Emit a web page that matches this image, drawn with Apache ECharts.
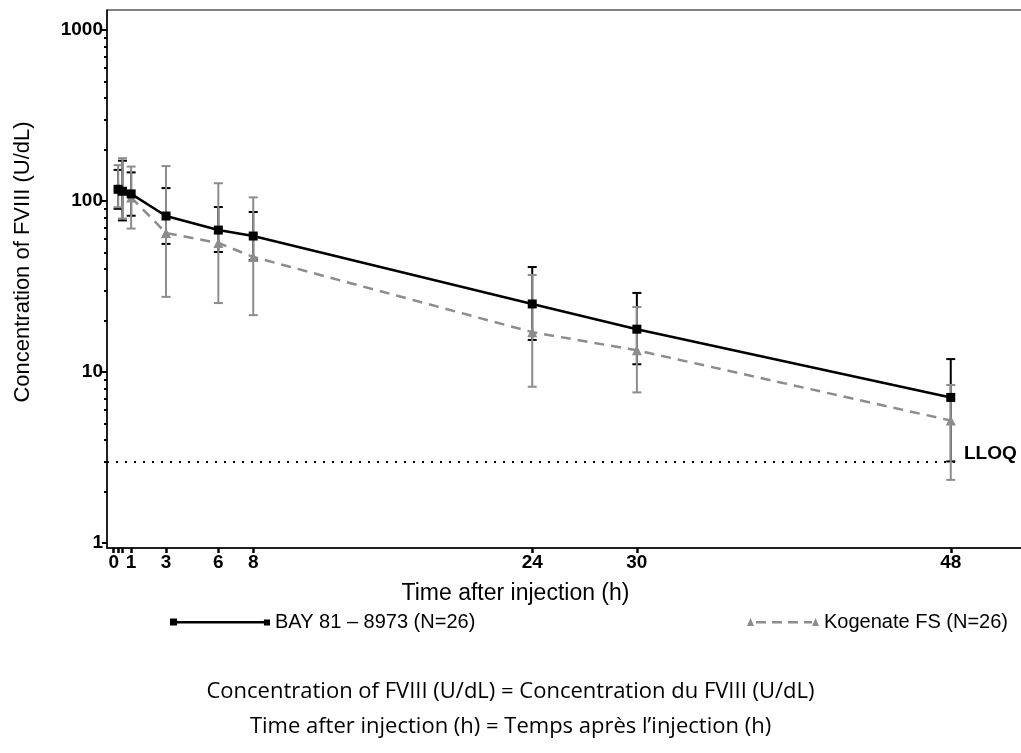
<!DOCTYPE html>
<html>
<head>
<meta charset="utf-8">
<script src="https://cdn.jsdelivr.net/npm/echarts@6/dist/echarts.min.js"></script>
<style>
  html, body { margin: 0; padding: 0; background: #fff; }
  #chart { width: 1021px; height: 753px; }
</style>
</head>
<body>
<div id="chart"></div>
<script>
// sampling times (h)
var times = [0.25, 0.5, 1, 3, 6, 8, 24, 30, 48];

// BAY 81-8973: geometric mean and error bar ends (U/dL)
var bayMean = [117, 114, 110, 81.7, 67.6, 62.4, 25.0, 17.8, 7.1];
var bayLow  = [90, 77, 82, 56.1, 50.3, 45.2, 15.4, 11.1, 3.0];
var bayHigh = [152, 172, 147, 119, 92.2, 86.2, 41.1, 29.0, 11.9];

// Kogenate FS
var kogMean = [122, 118, 105, 65.0, 56.8, 47.1, 17.1, 13.4, 5.2];
var kogLow  = [92, 79, 69, 27.5, 25.3, 21.5, 8.2, 7.6, 2.34];
var kogHigh = [162, 178, 159, 160, 127, 105, 36.9, 24.0, 8.4];

var lloq = 3;
var xTicks = [0, 0.25, 0.5, 1, 3, 6, 8, 24, 30, 48];
var xLabels = [0, 1, 3, 6, 8, 24, 30, 48];
var yLabels = [1, 10, 100, 1000];
var yMinor = [2, 3, 4, 5, 6, 7, 8, 9, 20, 30, 40, 50, 60, 70, 80, 90, 200, 300, 400, 500, 600, 700, 800, 900];

var BLACK = '#000000';
var GRAY = '#8c8c8c';
var X_MIN = -0.385, X_MAX = 52.2;
var Y_MIN = 0.935, Y_MAX = 1309;

var bayName = 'BAY 81 \u2013 8973 (N=26)';
var kogName = 'Kogenate FS (N=26)';

function pairs(xs, ys) {
    return xs.map(function (t, i) { return [t, ys[i]]; });
}
function bars(xs, lo, hi) {
    return xs.map(function (t, i) { return [t, lo[i], hi[i]]; });
}

// vertical error bar with caps
function errorBar(color) {
    return function (params, api) {
        var top = api.coord([api.value(0), api.value(2)]);
        var bot = api.coord([api.value(0), api.value(1)]);
        var hw = 4.5;
        var st = { stroke: color, lineWidth: 2 };
        return {
            type: 'group',
            children: [
                { type: 'line', shape: { x1: top[0], y1: top[1], x2: bot[0], y2: bot[1] }, style: st },
                { type: 'line', shape: { x1: top[0] - hw, y1: top[1], x2: top[0] + hw, y2: top[1] }, style: st },
                { type: 'line', shape: { x1: bot[0] - hw, y1: bot[1], x2: bot[0] + hw, y2: bot[1] }, style: st }
            ]
        };
    };
}

var font = 'Liberation Sans, Arial, sans-serif';
var chart = echarts.init(document.getElementById('chart'), null, { renderer: 'canvas' });

var option = {
    backgroundColor: '#fff',
    animation: false,
    title: [
        {
            text: 'Concentration of FVIII (U/dL) = Concentration du FVIII (U/dL)',
            left: 'center', top: 676,
            textStyle: { fontFamily: 'Open Sans', fontSize: 22, fontWeight: 'normal', color: '#000' }
        },
        {
            text: 'Time after injection (h) = Temps apr\u00e8s l\u2019injection (h)',
            left: 'center', top: 711,
            textStyle: { fontFamily: 'Open Sans', fontSize: 22, fontWeight: 'normal', color: '#000' }
        }
    ],
    legend: [
        {
            data: [{ name: bayName, itemStyle: { color: BLACK, borderWidth: 0 } }],
            left: 165, top: 607,
            itemWidth: 100, itemHeight: 8, itemGap: 10,
            icon: 'path://M0,0h7v7h-7zM7,2.5h86v2.5h-86zM93,1h6v6h-6z',
            textStyle: { fontFamily: font, fontSize: 20, color: '#000' },
            selectedMode: false
        },
        {
            data: [{ name: kogName, itemStyle: { color: GRAY, borderWidth: 0 } }],
            left: 742, top: 607,
            itemWidth: 72, itemHeight: 8, itemGap: 8,
            icon: 'path://M0,8L3.5,0L7,8zM9,3h10v2.5h-10zM25,3h10v2.5h-10zM41,3h10v2.5h-10zM57,3h8v2.5h-8zM65,8L68.5,0L72,8z',
            textStyle: { fontFamily: font, fontSize: 20, color: '#000' },
            selectedMode: false
        }
    ],
    grid: {
        left: 107, top: 10, right: -3, bottom: 205,
        show: true, borderColor: '#000', borderWidth: 1,
        outerBoundsMode: 'none'
    },
    xAxis: {
        type: 'value',
        min: X_MIN, max: X_MAX,
        name: 'Time after injection (h)',
        nameLocation: 'middle', nameGap: 34,
        nameTextStyle: { fontFamily: font, fontSize: 23, color: '#000', padding: [0, 100, 0, 0] },
        axisLine: { show: true, onZero: false, lineStyle: { color: '#000', width: 1.5 } },
        axisTick: { show: true, customValues: xTicks, length: 5, lineStyle: { color: '#000', width: 2.5 } },
        axisLabel: { customValues: xLabels, fontFamily: font, fontSize: 19, fontWeight: 'bold', color: '#000', margin: 5 },
        splitLine: { show: false }
    },
    yAxis: [
        {
            type: 'log', logBase: 10,
            min: Y_MIN, max: Y_MAX,
            name: 'Concentration of FVIII (U/dL)',
            nameLocation: 'middle', nameGap: 73,
            nameTextStyle: { fontFamily: font, fontSize: 22, color: '#000', padding: [0, 0, 0, 34] },
            axisLine: { show: true, onZero: false, lineStyle: { color: '#000', width: 1.5 } },
            axisTick: { show: true, customValues: yLabels, length: 5, lineStyle: { color: '#000', width: 2 } },
            axisLabel: {
                customValues: yLabels, fontFamily: font, fontSize: 19, fontWeight: 'bold', color: '#000', margin: 4,
                formatter: function (v) { return String(v); }
            },
            splitLine: { show: false }
        },
        {
            type: 'log', logBase: 10,
            min: Y_MIN, max: Y_MAX,
            position: 'left',
            axisLine: { show: false, onZero: false },
            axisTick: { show: true, customValues: yMinor, length: 3, lineStyle: { color: '#000', width: 2 } },
            axisLabel: { show: false },
            splitLine: { show: false }
        }
    ],
    series: [
        {
            name: 'bayBars', type: 'custom',
            renderItem: errorBar(BLACK),
            encode: { x: 0, y: [1, 2] },
            data: bars(times, bayLow, bayHigh),
            z: 1, silent: true
        },
        {
            name: 'kogBars', type: 'custom',
            renderItem: errorBar(GRAY),
            encode: { x: 0, y: [1, 2] },
            data: bars(times, kogLow, kogHigh),
            z: 2, silent: true
        },
        {
            name: kogName, type: 'line',
            data: pairs(times, kogMean),
            symbol: 'triangle', symbolSize: 10,
            itemStyle: { color: GRAY },
            lineStyle: { color: GRAY, width: 2.5, type: [10, 7] },
            z: 3,
            markLine: {
                silent: true, symbol: 'none',
                data: [[{ coord: [X_MIN, lloq] }, { coord: [48.3, lloq] }]],
                lineStyle: { color: '#000', type: [2, 7], width: 2 },
                label: {
                    show: true, position: 'end', formatter: 'LLOQ',
                    fontFamily: font, fontSize: 19, fontWeight: 'bold', color: '#000',
                    distance: 8, offset: [0, -8]
                }
            }
        },
        {
            name: bayName, type: 'line',
            data: pairs(times, bayMean),
            symbol: 'rect', symbolSize: 9,
            itemStyle: { color: BLACK },
            lineStyle: { color: BLACK, width: 2.5 },
            z: 4
        }
    ]
};

chart.setOption(option);
</script>
</body>
</html>
